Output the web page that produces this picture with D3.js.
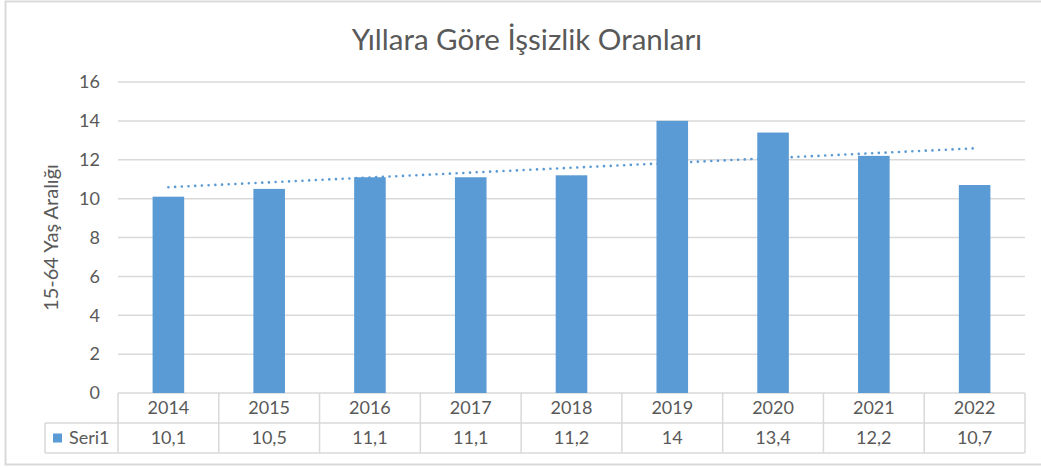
<!DOCTYPE html>
<html>
<head>
<meta charset="utf-8">
<script src="https://cdn.jsdelivr.net/npm/d3@7"></script>
<style>
  html, body { margin: 0; padding: 0; background: #fff; }
  svg { display: block; font-family: Lato, "Open Sans", sans-serif; }
</style>
</head>
<body>
<svg id="chart" width="1041" height="468"></svg>
<script>
// Values.
const years = ['2014', '2015', '2016', '2017', '2018', '2019', '2020', '2021', '2022'];
const seri1 = [10.1, 10.5, 11.1, 11.1, 11.2, 14, 13.4, 12.2, 10.7];
const seriesName = 'Seri1';
const yTicks = [0, 2, 4, 6, 8, 10, 12, 14, 16];
const title = 'Yıllara Göre İşsizlik Oranları';
const yTitle = '15-64 Yaş Aralığı';

const BAR = '#5b9bd5';
const GRID = '#d9d9d9';
const TEXT = '#595959';

const svg = d3.select('#chart');

const plot = { left: 118, right: 1025, top: 82, bottom: 393 };
const rowH = 30;

const x = d3.scaleBand().domain(years).range([plot.left, plot.right]).paddingInner(0).paddingOuter(0);
const y = d3.scaleLinear().domain([0, 16]).range([plot.bottom, plot.top]);
// Excel gap width 219%: bar = band / 3.19
const barW = x.bandwidth() / 3.19;

// outer frame
svg.append('rect')
    .attr('x', 5.5).attr('y', 1.5)
    .attr('width', 1060).attr('height', 463)
    .attr('fill', 'none').attr('stroke', GRID).attr('stroke-width', 2);

// title
svg.append('text')
    .attr('x', 527).attr('y', 50)
    .attr('text-anchor', 'middle')
    .attr('fill', TEXT).attr('font-size', 29.5)
    .text(title);

// gridlines
svg.append('g').selectAll('line').data(yTicks).join('line')
    .attr('x1', plot.left).attr('x2', plot.right)
    .attr('y1', (d) => y(d)).attr('y2', (d) => y(d))
    .attr('stroke', GRID).attr('stroke-width', 1.5);

// y tick labels
svg.append('g').selectAll('text').data(yTicks).join('text')
    .attr('x', 100).attr('y', (d) => y(d))
    .attr('dy', '0.35em')
    .attr('text-anchor', 'end')
    .attr('fill', TEXT).attr('font-size', 18)
    .text((d) => d);

// y axis title
svg.append('text')
    .attr('transform', `translate(58,${(plot.top + plot.bottom) / 2}) rotate(-90)`)
    .attr('text-anchor', 'middle')
    .attr('fill', TEXT).attr('font-size', 20)
    .text(yTitle);

// linear trendline (least squares over category index), drawn behind bars
const idx = years.map((_, i) => i);
const mx = d3.mean(idx), my = d3.mean(seri1);
const slope = d3.sum(idx, (i) => (i - mx) * (seri1[i] - my)) / d3.sum(idx, (i) => (i - mx) ** 2);
const trendAt = (i) => my + slope * (i - mx);
const xc = (i) => x(years[i]) + x.bandwidth() / 2;
svg.append('line')
    .attr('x1', xc(0)).attr('y1', y(trendAt(0)))
    .attr('x2', xc(years.length - 1)).attr('y2', y(trendAt(years.length - 1)))
    .attr('stroke', BAR).attr('stroke-width', 2.6)
    .attr('stroke-linecap', 'round')
    .attr('stroke-dasharray', '0.01 6.7');

// bars
svg.append('g').selectAll('rect').data(seri1).join('rect')
    .attr('x', (d, i) => xc(i) - barW / 2)
    .attr('y', (d) => y(d))
    .attr('width', barW)
    .attr('height', (d) => y(0) - y(d))
    .attr('fill', BAR);

// data table
const table = svg.append('g').attr('stroke', GRID).attr('stroke-width', 1.5);
const tBottom = plot.bottom + rowH * 2;
table.append('line').attr('x1', plot.left).attr('x2', plot.right)
    .attr('y1', plot.bottom + rowH).attr('y2', plot.bottom + rowH);
table.append('line').attr('x1', 45).attr('x2', plot.right)
    .attr('y1', tBottom).attr('y2', tBottom);
table.append('line').attr('x1', 45).attr('x2', plot.left)
    .attr('y1', plot.bottom + rowH).attr('y2', plot.bottom + rowH);
table.append('line').attr('x1', 45).attr('x2', 45)
    .attr('y1', plot.bottom + rowH).attr('y2', tBottom);
const edges = years.map((yr) => x(yr)).concat([plot.right]);
table.selectAll('line.col').data(edges).join('line')
    .attr('class', 'col')
    .attr('x1', (d) => d).attr('x2', (d) => d)
    .attr('y1', plot.bottom).attr('y2', tBottom);

svg.append('g').selectAll('text').data(years).join('text')
    .attr('x', (d, i) => xc(i)).attr('y', plot.bottom + rowH / 2)
    .attr('dy', '0.35em').attr('text-anchor', 'middle')
    .attr('fill', TEXT).attr('font-size', 18)
    .text((d) => d);

const fmt = (v) => String(v).replace('.', ',');
svg.append('g').selectAll('text').data(seri1).join('text')
    .attr('x', (d, i) => xc(i)).attr('y', plot.bottom + rowH * 1.5)
    .attr('dy', '0.35em').attr('text-anchor', 'middle')
    .attr('fill', TEXT).attr('font-size', 18)
    .text(fmt);

// legend key in table
svg.append('rect')
    .attr('x', 53).attr('y', plot.bottom + rowH * 1.5 - 4.5)
    .attr('width', 9).attr('height', 9)
    .attr('fill', BAR);
svg.append('text')
    .attr('x', 69).attr('y', plot.bottom + rowH * 1.5)
    .attr('dy', '0.35em')
    .attr('fill', TEXT).attr('font-size', 18)
    .text(seriesName);
</script>
</body>
</html>
